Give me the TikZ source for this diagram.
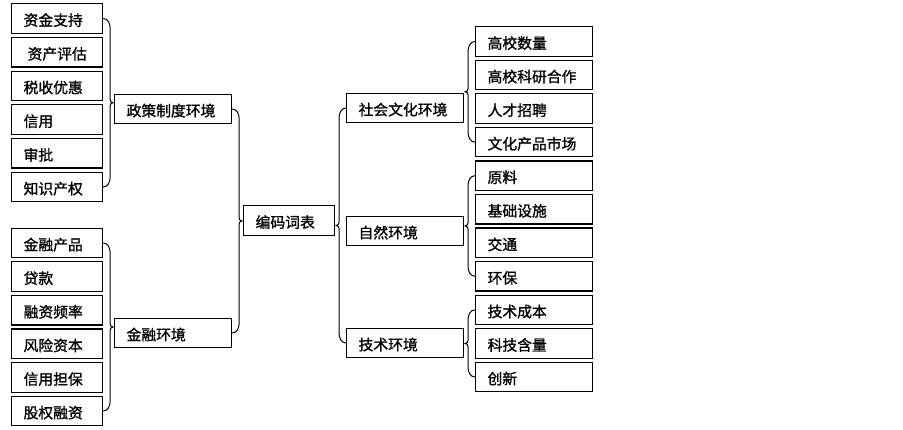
\documentclass[tikz,border=0pt]{standalone}
\usepackage{fontspec}
\setmainfont[FakeBold=1.2]{Noto Sans CJK SC}
\usetikzlibrary{calc}
\tikzset{
  box/.style={draw=black, line width=1.2pt, rectangle, anchor=west, inner xsep=12pt, inner ysep=0pt,
    minimum height=29.5pt, align=left, text height=14.5pt, text depth=0pt,
    font=\fontsize{14.8}{16}\selectfont},
  sbox/.style={box, text width=67pt},
  wbox/.style={box, text width=93pt},
  brace/.style={draw=black, line width=1pt},
}
% children on the left, parent on the right: cusp points right
\newcommand\mybraceR[3]{%
  \coordinate (mA) at ($(#1.east)!0.5!(#2.east)$);
  \coordinate (mC) at ($(#3.west |- mA)+(-1pt,0)$);
  \draw[brace] (#1.east) to[out=0,in=90] ($(#1.east)+(7pt,-10pt)$) -- ($(mA)+(7pt,10pt)$)
    to[out=-90,in=180] (mC) to[out=180,in=90] ($(mA)+(7pt,-10pt)$) -- ($(#2.east)+(7pt,10pt)$)
    to[out=-90,in=0] (#2.east);
}
% parent on the left, children on the right: cusp points left
\newcommand\mybraceL[3]{%
  \coordinate (mA) at ($(#1.west)!0.5!(#2.west)$);
  \coordinate (mC) at ($(#3.east |- mA)+(1pt,0)$);
  \draw[brace] (#1.west) to[out=180,in=90] ($(#1.west)+(-7pt,-10pt)$) -- ($(mA)+(-7pt,10pt)$)
    to[out=-90,in=0] (mC) to[out=0,in=90] ($(mA)+(-7pt,-10pt)$) -- ($(#2.west)+(-7pt,10pt)$)
    to[out=-90,in=180] (#2.west);
}
\begin{document}
\begin{tikzpicture}[x=1pt,y=1pt]
\useasboundingbox (0,0) rectangle (903,-430);
% left column
\node[sbox] (a1) at (11,-18.5) {资金支持};
\node[sbox] (a2) at (11,-52.2) {\hspace*{4pt}资产评估};
\node[sbox] (a3) at (11,-85.9) {税收优惠};
\node[sbox] (a4) at (11,-119.6) {信用};
\node[sbox] (a5) at (11,-153.3) {审批};
\node[sbox] (a6) at (11,-187) {知识产权};
\node[sbox] (b1) at (11,-243) {金融产品};
\node[sbox] (b2) at (11,-276.6) {贷款};
\node[sbox] (b3) at (11,-310.2) {融资频率};
\node[sbox] (b4) at (11,-343.8) {风险资本};
\node[sbox] (b5) at (11,-377.4) {信用担保};
\node[sbox] (b6) at (11,-411) {股权融资};
% second column
\node[wbox] (pa) at (114,-109) {政策制度环境};
\node[wbox] (pb) at (114,-333) {金融环境};
% center
\node[sbox] (root) at (243,-220.5) {编码词表};
% right middle column
\node[wbox] (qa) at (346,-108) {社会文化环境};
\node[wbox] (qb) at (346,-231) {自然环境};
\node[wbox] (qc) at (346,-343) {技术环境};
% right column
\node[wbox] (c1) at (475,-41.5) {高校数量};
\node[wbox] (c2) at (475,-75) {高校科研合作};
\node[wbox] (c3) at (475,-108.6) {人才招聘};
\node[wbox] (c4) at (475,-142.1) {文化产品市场};
\node[wbox] (c5) at (475,-175.7) {原料};
\node[wbox] (c6) at (475,-209.2) {基础设施};
\node[wbox] (c7) at (475,-242.8) {交通};
\node[wbox] (c8) at (475,-276.3) {环保};
\node[wbox] (c9) at (475,-309.9) {技术成本};
\node[wbox] (c10) at (475,-343.4) {科技含量};
\node[wbox] (c11) at (475,-377) {创新};
% braces
\mybraceR{a1}{a6}{pa}
\mybraceR{b1}{b6}{pb}
\mybraceR{pa}{pb}{root}
\mybraceL{qa}{qc}{root}
\mybraceL{c1}{c4}{qa}
\mybraceL{c5}{c8}{qb}
\mybraceL{c9}{c11}{qc}
\end{tikzpicture}
\end{document}
